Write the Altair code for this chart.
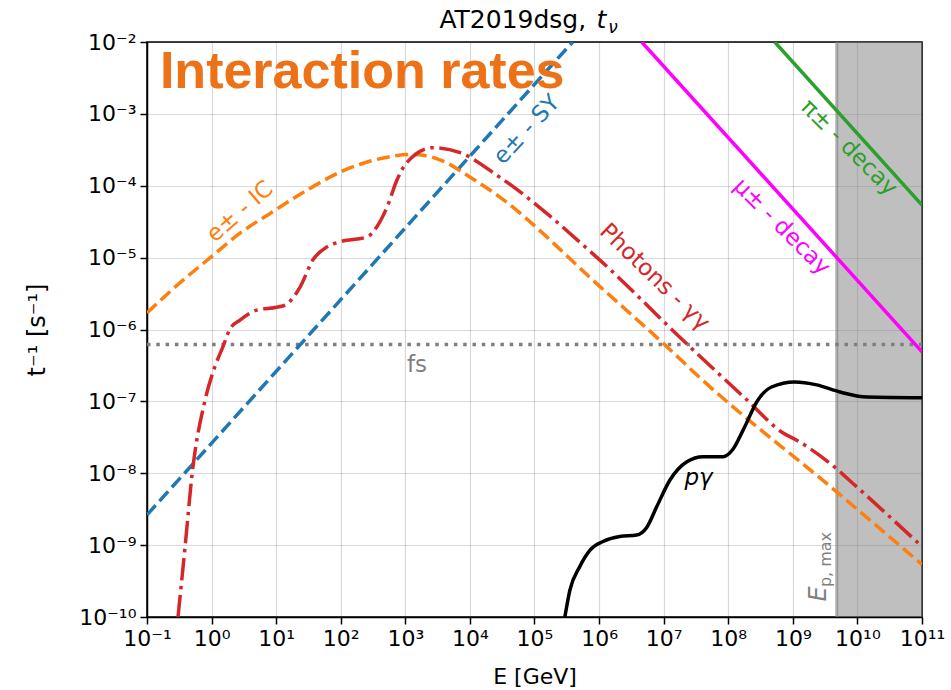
import altair as alt
import pandas as pd

# Curves are stored as log10(E / GeV) and log10(rate / s^-1) pairs
sy_logE = [-1.0, 5.59]
sy_logR = [-8.58, -2.0]

ic_logE = [-1.0, -0.49, -0.02, 0.44, 0.95, 1.48, 1.99, 2.41, 2.8, 3.05, 3.3, 3.64, 3.95, 4.42,
           6.01, 6.99, 7.56, 9.68, 11.0]
ic_logR = [-5.77, -5.35, -5.0, -4.66, -4.36, -4.06, -3.81, -3.67, -3.59, -3.565, -3.58, -3.68,
           -3.85, -4.13, -5.40, -6.19, -6.67, -8.26, -9.27]

gg_logE = [-0.52, -0.41, -0.30, -0.10, 0.05, 0.18, 0.28, 0.44, 0.70, 1.01, 1.14, 1.37, 1.57,
           1.79, 1.99, 2.41, 2.56, 2.72, 2.87, 3.02, 3.43, 3.85, 4.46, 5.97, 7.37, 8.29, 8.85,
           9.06, 9.60, 9.99, 11.0]
gg_logR = [-10.0, -9.02, -8.0, -6.98, -6.52, -6.23, -6.0, -5.87, -5.73, -5.69, -5.66, -5.41,
           -5.03, -4.85, -4.78, -4.71, -4.57, -4.29, -3.92, -3.68, -3.47, -3.54, -3.88, -5.0,
           -6.21, -6.98, -7.44, -7.54, -7.88, -8.19, -9.02]

pg_logE = [5.47, 5.55, 5.70, 5.86, 6.06, 6.32, 6.58, 6.74, 6.89, 7.10, 7.36, 7.61, 7.92, 8.07,
           8.23, 8.46, 8.67, 9.03, 9.37, 9.73, 10.15, 11.0]
pg_logR = [-10.0, -9.62, -9.30, -9.07, -8.95, -8.88, -8.86, -8.75, -8.47, -8.09, -7.84, -7.77,
           -7.77, -7.67, -7.40, -6.98, -6.80, -6.73, -6.77, -6.87, -6.94, -6.95]

mu_logE = [6.66, 11.0]
mu_logR = [-2.0, -6.31]

pi_logE = [8.72, 11.0]
pi_logR = [-2.0, -4.27]

fs_logE = [-1.0, 11.0]
fs_logR = [-6.21, -6.21]

ep_max_logE = 9.68

E_DOMAIN = [1e-1, 1e11]
R_DOMAIN = [1e-10, 1e-2]
x_ticks = [10.0 ** k for k in range(-1, 12)]
y_ticks = [10.0 ** k for k in range(-10, -1)]

SUP_X = "['⁻¹','⁰','¹','²','³','⁴','⁵','⁶','⁷','⁸','⁹','¹⁰','¹¹']"
SUP_Y = "['⁻¹⁰','⁻⁹','⁻⁸','⁻⁷','⁻⁶','⁻⁵','⁻⁴','⁻³','⁻²']"

FONT = "DejaVu Sans"

x_enc = alt.X(
    "E:Q",
    scale=alt.Scale(type="log", domain=E_DOMAIN, nice=False),
    axis=alt.Axis(
        values=x_ticks,
        labelExpr="'10' + " + SUP_X + "[round(log(datum.value)/LN10) + 1]",
        title="E [GeV]",
        titlePadding=17,
    ),
)
y_enc = alt.Y(
    "rate:Q",
    scale=alt.Scale(type="log", domain=R_DOMAIN, nice=False),
    axis=alt.Axis(
        values=y_ticks,
        labelExpr="'10' + " + SUP_Y + "[round(log(datum.value)/LN10) + 10]",
        title="t⁻¹ [s⁻¹]",
        titlePadding=29,
        titleFontSize=24,
    ),
)


def curve(logE, logR):
    return pd.DataFrame({"E": [10.0 ** v for v in logE], "rate": [10.0 ** v for v in logR]})


LW = 3.5
layers = []

# shaded region above the maximum proton energy
shade = pd.DataFrame({"E": [10.0 ** ep_max_logE], "E2": [E_DOMAIN[1]],
                      "rate": [R_DOMAIN[0]], "rate2": [R_DOMAIN[1]]})
layers.append(
    alt.Chart(shade).mark_rect(color="#808080", opacity=0.5).encode(
        x=x_enc, x2="E2:Q", y=y_enc, y2="rate2:Q")
)
layers.append(
    alt.Chart(shade).mark_rule(color="#808080", opacity=0.6, strokeWidth=3).encode(
        x=x_enc)
)

series = [
    (fs_logE, fs_logR, "#7f7f7f", [3.5, 5.8], "linear"),
    (sy_logE, sy_logR, "#1f77b4", [13, 5.6], "linear"),
    (ic_logE, ic_logR, "#ff7f0e", [13, 5.6], "monotone"),
    (gg_logE, gg_logR, "#d62728", [22.4, 5.6, 3.5, 5.6], "monotone"),
    (pg_logE, pg_logR, "#000000", None, "monotone"),
    (mu_logE, mu_logR, "#ff00ff", None, "linear"),
    (pi_logE, pi_logR, "#2ca02c", None, "linear"),
]
for logE, logR, color, dash, interp in series:
    kw = dict(color=color, strokeWidth=LW, interpolate=interp, clip=True)
    if dash:
        kw["strokeDash"] = dash
    layers.append(alt.Chart(curve(logE, logR)).mark_line(**kw).encode(x=x_enc, y=y_enc))

# text pieces: text, log10 E, log10 rate, angle, colour, style, size, align, baseline
label_text = ["e± - IC", "e± - SY", "Photons - γγ", "μ± - decay", "π± - decay", "fs", "pγ",
              "E", "p, max",
              "AT2019dsg,", "t", "ν"]
label_logE = [0.44, 4.88, 6.86, 8.83, 9.87, 3.18, 7.54, 9.40, 9.51,
              5.80, 5.96, 6.14]
label_logR = [-4.36, -3.22, -5.27, -4.57, -3.47, -6.49, -8.06, -9.68, -9.20,
              -1.81, -1.81, -1.87]
label_angle = [319, 313, 44, 45, 45, 0, 0, 270, 270, 0, 0, 0]
label_color = ["#ff7f0e", "#1f77b4", "#d62728", "#ff00ff", "#2ca02c", "#7f7f7f", "#000000",
               "#7f7f7f", "#7f7f7f", "#000000", "#000000", "#000000"]
label_style = ["normal", "normal", "normal", "normal", "normal", "normal", "italic", "italic",
               "normal", "normal", "italic", "italic"]
label_size = [23, 23, 23, 23, 23, 23, 23, 24, 16, 25, 25, 17]
label_align = ["center"] * 9 + ["right", "left", "left"]
label_base = ["middle"] * 9 + ["alphabetic"] * 3

for t, le, lr, ang, col, sty, sz, al, bl in zip(label_text, label_logE, label_logR, label_angle,
                                                 label_color, label_style, label_size,
                                                 label_align, label_base):
    df = pd.DataFrame({"E": [10.0 ** le], "rate": [10.0 ** lr], "label": [t]})
    layers.append(
        alt.Chart(df).mark_text(angle=ang, color=col, fontSize=sz, font=FONT, fontStyle=sty,
                                align=al, baseline=bl).encode(
            x=x_enc, y=y_enc, text="label:N")
    )

heading = pd.DataFrame({"E": [10.0 ** -0.80], "rate": [10.0 ** -2.64], "label": ["Interaction rates"]})
layers.append(
    alt.Chart(heading).mark_text(color="#ED7117", fontSize=52, font="Liberation Sans",
                                 fontWeight="bold", align="left", baseline="alphabetic").encode(
        x=x_enc, y=y_enc, text="label:N")
)

chart = alt.layer(*layers).properties(
    width=775,
    height=575,
    autosize=alt.AutoSizeParams(type="none"),
    padding={"left": 147, "top": 42, "right": 29, "bottom": 73},
    background="white",
).configure_view(
    stroke="black", strokeWidth=1.5
).configure_axis(
    labelFont=FONT, titleFont=FONT, labelFontSize=22, titleFontSize=22,
    labelColor="black", titleColor="black", titleFontWeight="normal",
    domainColor="black", domainWidth=1.5, tickColor="black", tickWidth=1.5, tickSize=7,
    labelPadding=4, gridColor="#000000", gridOpacity=0.15, gridWidth=1.2,
    labelFlush=False, labelOverlap=False,
)

chart.save("out.html", embed_options={"renderer": "svg", "actions": False})
